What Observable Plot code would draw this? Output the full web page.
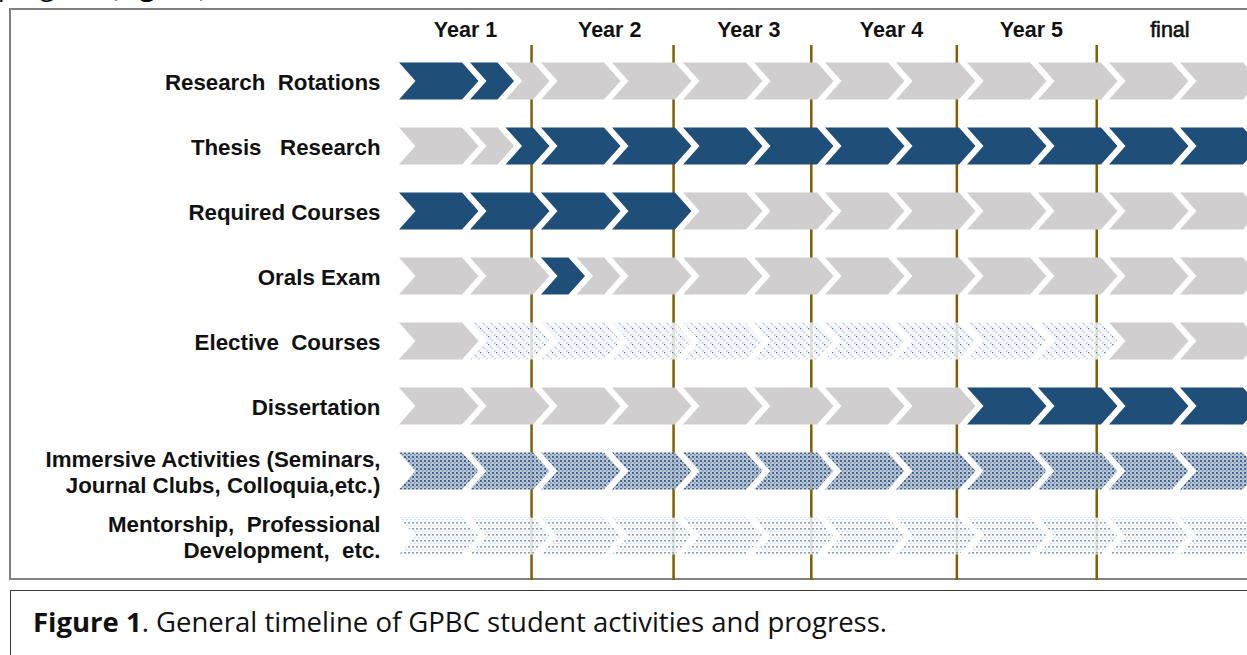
<!DOCTYPE html>
<html><head><meta charset="utf-8">
<script src="https://cdn.jsdelivr.net/npm/d3@7"></script>
<script src="https://cdn.jsdelivr.net/npm/@observablehq/plot@0.6"></script>
<style>
html,body{margin:0;padding:0;background:#fff;overflow:hidden}
body{width:1247px;height:655px;position:relative}
#pre{position:absolute;left:-2px;top:-27px;font-family:"Open Sans",sans-serif;font-size:26px;line-height:26px;white-space:nowrap;color:#000}
#frame{position:absolute;left:9px;top:8px;width:1260px;height:572px;border:2px solid #808080;box-sizing:border-box}
#chart{position:absolute;left:0;top:0}
#chart svg{overflow:hidden}
#caption{position:absolute;left:10px;top:590px;width:1260px;height:90px;border:1.5px solid #3a3a3a;box-sizing:border-box;font-family:"Open Sans",sans-serif;font-size:27.5px;line-height:34px;color:#111;padding:14px 0 0 22px;white-space:nowrap}
</style></head>
<body>
<div id="pre">program (<b>Figure</b>)</div>
<div id="frame"></div>
<div id="chart"></div>
<div id="caption"><b>Figure 1</b>. General timeline of GPBC student activities and progress.</div>
<script>
// ---- data ----
const rowLabels = [
  "Research  Rotations",
  "Thesis   Research",
  "Required Courses",
  "Orals Exam",
  "Elective  Courses",
  "Dissertation",
  "Immersive Activities (Seminars,\nJournal Clubs, Colloquia,etc.)",
  "Mentorship,  Professional\nDevelopment,  etc."
];
// segment boundaries in half-year units
const rowBreaks = [
  [0,1,1.5,2,3,4,5,6,7,8,9,10,11,12],
  [0,1,1.5,2,3,4,5,6,7,8,9,10,11,12],
  [0,1,2,3,4,5,6,7,8,9,10,11,12],
  [0,1,2,2.5,3,4,5,6,7,8,9,10,11,12],
  [0,1,2,3,4,5,6,7,8,9,10,11,12],
  [0,1,2,3,4,5,6,7,8,9,10,11,12],
  [0,1,2,3,4,5,6,7,8,9,10,11,12],
  [0,1,2,3,4,5,6,7,8,9,10,11,12]
];
const rowFills = [
  ["dark","dark","gray","gray","gray","gray","gray","gray","gray","gray","gray","gray","gray"],
  ["gray","gray","dark","dark","dark","dark","dark","dark","dark","dark","dark","dark","dark"],
  ["dark","dark","dark","dark","gray","gray","gray","gray","gray","gray","gray","gray"],
  ["gray","gray","dark","gray","gray","gray","gray","gray","gray","gray","gray","gray","gray"],
  ["gray","dots","dots","dots","dots","dots","dots","dots","dots","dots","gray","gray"],
  ["gray","gray","gray","gray","gray","gray","gray","gray","dark","dark","dark","dark"],
  ["weave","weave","weave","weave","weave","weave","weave","weave","weave","weave","weave","weave"],
  ["rows","rows","rows","rows","rows","rows","rows","rows","rows","rows","rows","rows"]
];
const yearLabels = ["Year 1","Year 2","Year 3","Year 4","Year 5","final"];
const yearLabelPos = [0.93, 2.96, 4.92, 6.93, 8.90, 10.85];
const yearLines = [1.86, 3.86, 5.80, 7.85, 9.82];

// ---- styles ----
const fillOf = {dark:"#1f4e79", gray:"#d0cece", dots:"url(#pDots)", weave:"url(#pWeave)", rows:"url(#pRows)"};
const GAP = 8/71, TIP = 16.5/71, HALF = 18.5/65;

const pts = [];
rowLabels.forEach((lab, r) => {
  const br = rowBreaks[r], fl = rowFills[r];
  for (let i = 0; i < fl.length; i++) {
    const a = br[i], b = br[i+1], key = r + "-" + i, fill = fillOf[fl[i]];
    pts.push({key, fill, y: r - HALF, x1: a, x2: b - GAP});
    pts.push({key, fill, y: r, x1: a + TIP, x2: b - GAP + TIP});
    pts.push({key, fill, y: r + HALF, x1: a, x2: b - GAP});
  }
});
const labels = rowLabels.map((t, i) => ({t, r: i}));
const years = yearLabels.map((t, i) => ({t, x: yearLabelPos[i]}));
const font = "Liberation Sans, Arial, sans-serif";

const svg = Plot.plot({
  width: 1247, height: 580,
  marginTop: 45, marginBottom: 0, marginLeft: 0, marginRight: 0,
  x: {domain: [0, 12], range: [399, 1251], axis: null},
  y: {domain: [0, 7], range: [81, 536], axis: null},
  color: {type: "identity"},
  style: {background: "transparent", overflow: "hidden"},
  marks: [
    Plot.ruleX(yearLines, {x: d => d, stroke: "#7f6000", strokeWidth: 2.5}),
    Plot.areaX(pts, {y: "y", x1: "x1", x2: "x2", z: "key", fill: "fill", curve: "linear"}),
    Plot.text(labels, {x: 0, y: "r", text: "t", dx: -19, textAnchor: "end", fontWeight: "bold",
      fontSize: 22.3, fill: "#111", fontFamily: font, lineHeight: 1.15}),
    Plot.text(years.filter(d => d.t !== "final"), {x: "x", text: "t", frameAnchor: "top", lineAnchor: "middle", dy: -15,
      fontWeight: "bold", fontSize: 21.5, fill: "#111", fontFamily: font}),
    Plot.text(years.filter(d => d.t === "final"), {x: "x", text: "t", frameAnchor: "top", lineAnchor: "middle", dy: -15,
      fontWeight: "normal", fontSize: 21.5, fill: "#111", stroke: "#111", strokeWidth: 0.6, fontFamily: font})
  ]
});

// patterns
const defs = d3.select(svg).insert("defs", ":first-child");
const p1 = defs.append("pattern").attr("id","pDots").attr("patternUnits","userSpaceOnUse").attr("width",8).attr("height",8);
p1.append("rect").attr("width",8).attr("height",8).attr("fill","#f2f5f8").attr("fill-opacity",0.85);
p1.append("rect").attr("x",2).attr("y",2).attr("width",2).attr("height",2).attr("fill","#d3dce6");
p1.append("rect").attr("x",6).attr("y",6).attr("width",2).attr("height",2).attr("fill","#d3dce6");
p1.append("rect").attr("x",0).attr("y",0).attr("width",1.3).attr("height",1.3).attr("fill","#5d7ca2");
p1.append("rect").attr("x",4).attr("y",4).attr("width",1).attr("height",1).attr("fill","#9fb1c6");
const p2 = defs.append("pattern").attr("id","pWeave").attr("patternUnits","userSpaceOnUse").attr("width",4).attr("height",4);
p2.append("rect").attr("width",4).attr("height",4).attr("fill","#b3c1d2").attr("fill-opacity",0.9);
p2.append("rect").attr("x",0).attr("y",0).attr("width",2).attr("height",2).attr("fill","#46658d");
p2.append("rect").attr("x",2).attr("y",2).attr("width",1.5).attr("height",1.5).attr("fill","#7891af");
const p3 = defs.append("pattern").attr("id","pRows").attr("patternUnits","userSpaceOnUse").attr("width",4).attr("height",6);
p3.append("rect").attr("width",4).attr("height",6).attr("fill","#f6f8fa").attr("fill-opacity",0.85);
p3.append("rect").attr("x",0).attr("y",0).attr("width",2).attr("height",1.6).attr("fill","#8ba2bd");
p3.append("rect").attr("x",2).attr("y",3).attr("width",1.5).attr("height",1.2).attr("fill","#cdd7e3");

document.getElementById("chart").appendChild(svg);
</script>
</body></html>
